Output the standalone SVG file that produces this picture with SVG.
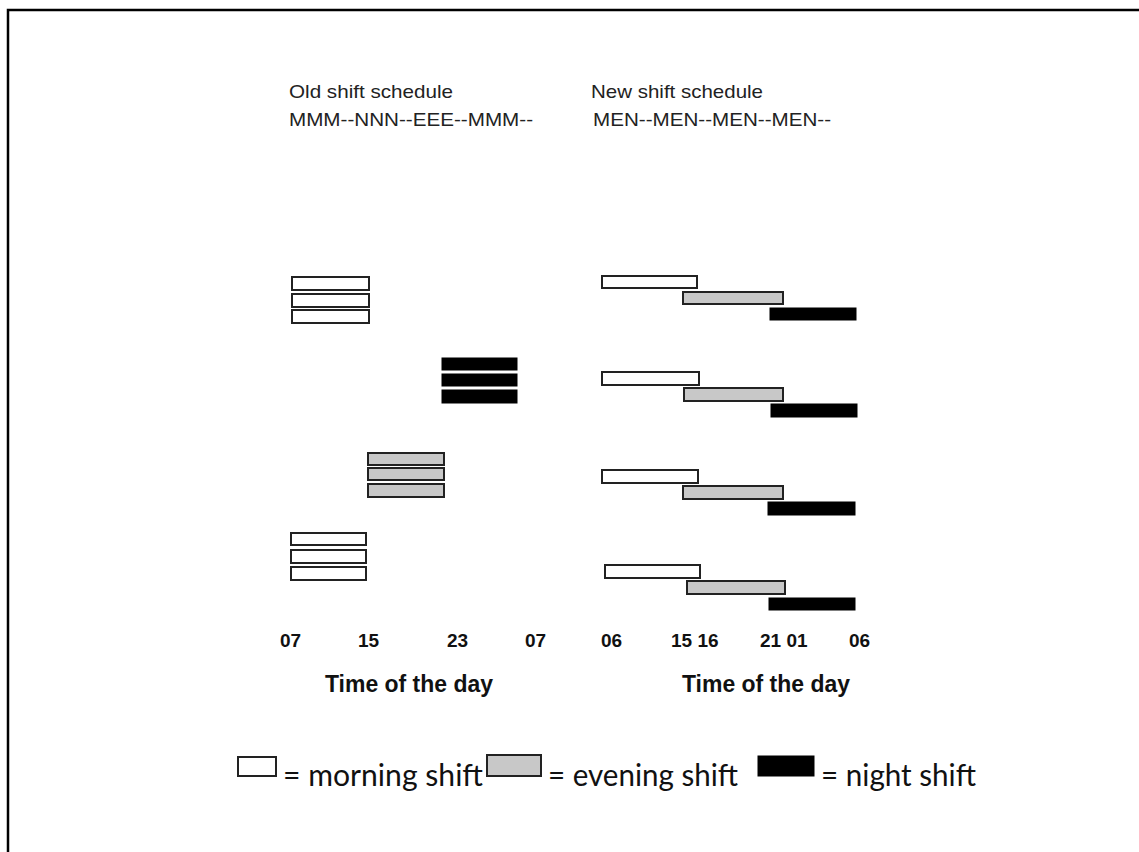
<svg xmlns="http://www.w3.org/2000/svg" width="1139" height="852" viewBox="0 0 1139 852">
<style>
.hdr{font-family:"Liberation Sans",Arial,sans-serif;font-size:19px;fill:#222}
.ax{font-family:"Liberation Sans",Arial,sans-serif;font-size:19px;font-weight:bold;fill:#111}
.ttl{font-family:"Liberation Sans",Arial,sans-serif;font-size:23px;font-weight:bold;fill:#111}
.leg{font-family:Lato,"Open Sans",sans-serif;font-size:30px;fill:#111}
.m{fill:#fff;stroke:#222;stroke-width:2}
.e{fill:#c8c8c8;stroke:#222;stroke-width:2}
.n{fill:#000;stroke:#000;stroke-width:1}
</style>
<rect width="1139" height="852" fill="#fff"/>
<g id="frame" fill="none" stroke="#000" stroke-width="2.5">
<polyline points="8,852 8,10 1139,10"/>
</g>
<g id="headers">
<text class="hdr" x="289" y="98" textLength="164" lengthAdjust="spacingAndGlyphs">Old shift schedule</text>
<text class="hdr" x="289" y="126" textLength="244" lengthAdjust="spacingAndGlyphs">MMM--NNN--EEE--MMM--</text>
<text class="hdr" x="591" y="98" textLength="172" lengthAdjust="spacingAndGlyphs">New shift schedule</text>
<text class="hdr" x="593" y="126" textLength="238" lengthAdjust="spacingAndGlyphs">MEN--MEN--MEN--MEN--</text>
</g>
<g id="old-schedule">
<g id="old-morning-1">
<rect class="m" x="292" y="277" width="77" height="13"/>
<rect class="m" x="292" y="294" width="77" height="13"/>
<rect class="m" x="292" y="310" width="77" height="13"/>
</g>
<g id="old-night">
<rect class="n" x="442" y="358" width="75" height="12"/>
<rect class="n" x="442" y="374" width="75" height="12"/>
<rect class="n" x="442" y="390" width="75" height="13"/>
</g>
<g id="old-evening">
<rect class="e" x="368" y="453" width="76" height="12"/>
<rect class="e" x="368" y="468" width="76" height="12"/>
<rect class="e" x="368" y="484" width="76" height="13"/>
</g>
<g id="old-morning-2">
<rect class="m" x="291" y="533" width="75" height="12"/>
<rect class="m" x="291" y="550" width="75" height="13"/>
<rect class="m" x="291" y="567" width="75" height="13"/>
</g>
</g>
<g id="new-schedule">
<g id="new-day-1">
<rect class="m" x="602" y="276" width="95" height="12"/>
<rect class="e" x="683" y="292" width="100" height="12"/>
<rect class="n" x="770" y="308" width="86" height="12"/>
</g>
<g id="new-day-2">
<rect class="m" x="602" y="372" width="97" height="13"/>
<rect class="e" x="684" y="388" width="99" height="13"/>
<rect class="n" x="771" y="404" width="86" height="13"/>
</g>
<g id="new-day-3">
<rect class="m" x="602" y="470" width="96" height="13"/>
<rect class="e" x="683" y="486" width="100" height="13"/>
<rect class="n" x="768" y="502" width="87" height="13"/>
</g>
<g id="new-day-4">
<rect class="m" x="605" y="565" width="95" height="13"/>
<rect class="e" x="687" y="581" width="98" height="13"/>
<rect class="n" x="769" y="598" width="86" height="12"/>
</g>
</g>
<g id="axis-labels">
<text class="ax" x="280" y="647">07</text>
<text class="ax" x="358" y="647">15</text>
<text class="ax" x="447" y="647">23</text>
<text class="ax" x="525" y="647">07</text>
<text class="ax" x="601" y="647">06</text>
<text class="ax" x="671" y="647">15 16</text>
<text class="ax" x="760" y="647">21 01</text>
<text class="ax" x="849" y="647">06</text>
<text class="ttl" x="325" y="692" textLength="168" lengthAdjust="spacingAndGlyphs">Time of the day</text>
<text class="ttl" x="682" y="692" textLength="168" lengthAdjust="spacingAndGlyphs">Time of the day</text>
</g>
<g id="legend">
<rect class="m" x="238" y="757" width="38" height="19"/>
<text class="leg" x="283" y="786" textLength="200" lengthAdjust="spacingAndGlyphs">= morning shift</text>
<rect class="e" x="487" y="755" width="54" height="21"/>
<text class="leg" x="548" y="786" textLength="190" lengthAdjust="spacingAndGlyphs">= evening shift</text>
<rect class="n" x="758" y="756" width="56" height="20"/>
<text class="leg" x="821" y="786" textLength="155" lengthAdjust="spacingAndGlyphs">= night shift</text>
</g>
</svg>
